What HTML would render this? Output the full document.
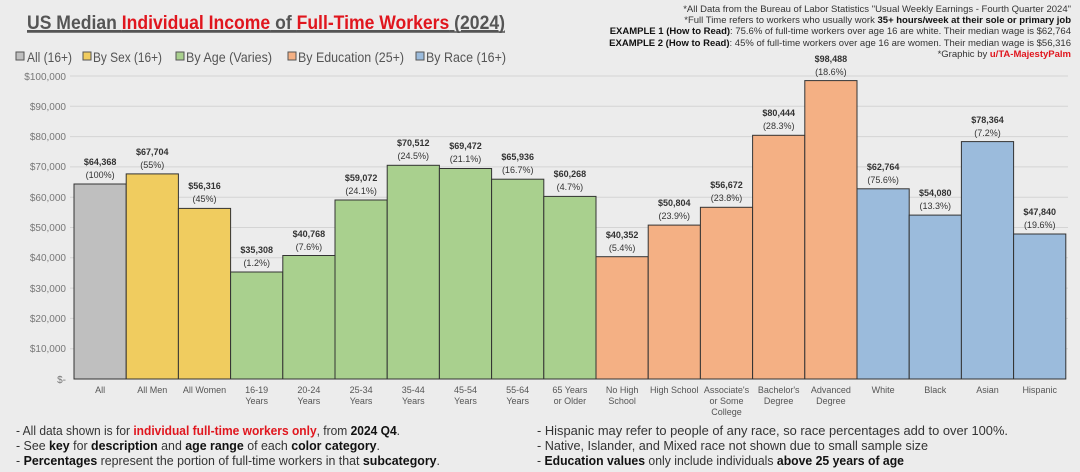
<!DOCTYPE html>
<html><head><meta charset="utf-8"><style>
html,body{margin:0;padding:0;background:#ececec;}
svg{display:block;font-family:"Liberation Sans",sans-serif;}
</style></head><body>
<svg width="1080" height="472" viewBox="0 0 1080 472" xmlns="http://www.w3.org/2000/svg">
<rect x="0" y="0" width="1080" height="472" fill="#ececec"/>
<text x="27" y="29" font-size="19" font-weight="bold" fill="#555" textLength="478" lengthAdjust="spacingAndGlyphs" text-decoration="underline">US Median <tspan fill="#e0161e">Individual Income</tspan> of <tspan fill="#e0161e">Full-Time Workers</tspan> (2024)</text>
<line x1="27" y1="32" x2="505" y2="32" stroke="#555" stroke-width="1.5"/>
<g font-size="9.5" fill="#333" text-anchor="end">
<text x="1071" y="12">*All Data from the Bureau of Labor Statistics "Usual Weekly Earnings - Fourth Quarter 2024"</text>
<text x="1071" y="23">*Full Time refers to workers who usually work <tspan font-weight="bold" fill="#111">35+ hours/week at their sole or primary job</tspan></text>
<text x="1071" y="34"><tspan font-weight="bold" fill="#111">EXAMPLE 1 (How to Read)</tspan>: 75.6% of full-time workers over age 16 are white. Their median wage is $62,764</text>
<text x="1071" y="46"><tspan font-weight="bold" fill="#111">EXAMPLE 2 (How to Read)</tspan>: 45% of full-time workers over age 16 are women. Their median wage is $56,316</text>
<text x="1071" y="57">*Graphic by <tspan font-weight="bold" fill="#e0161e">u/TA-MajestyPalm</tspan></text>
</g>
<g font-size="14" fill="#555">
<rect x="16" y="52" width="8" height="8" fill="#bfbfbf" stroke="#555"/><text x="27" y="62" textLength="45" lengthAdjust="spacingAndGlyphs">All (16+)</text>
<rect x="83" y="52" width="8" height="8" fill="#f0cc5f" stroke="#555"/><text x="93" y="62" textLength="69" lengthAdjust="spacingAndGlyphs">By Sex (16+)</text>
<rect x="176" y="52" width="8" height="8" fill="#a9d08e" stroke="#555"/><text x="186" y="62" textLength="86" lengthAdjust="spacingAndGlyphs">By Age (Varies)</text>
<rect x="288" y="52" width="8" height="8" fill="#f4b084" stroke="#555"/><text x="298" y="62" textLength="106" lengthAdjust="spacingAndGlyphs">By Education (25+)</text>
<rect x="416" y="52" width="8" height="8" fill="#9bbbdc" stroke="#555"/><text x="426" y="62" textLength="80" lengthAdjust="spacingAndGlyphs">By Race (16+)</text>
</g>
<g stroke="#d4d4d4" stroke-width="1">
<line x1="70" y1="76" x2="1068" y2="76"/><line x1="70" y1="106.3" x2="1068" y2="106.3"/><line x1="70" y1="136.6" x2="1068" y2="136.6"/><line x1="70" y1="166.9" x2="1068" y2="166.9"/><line x1="70" y1="197.2" x2="1068" y2="197.2"/><line x1="70" y1="227.5" x2="1068" y2="227.5"/><line x1="70" y1="257.8" x2="1068" y2="257.8"/><line x1="70" y1="288.1" x2="1068" y2="288.1"/><line x1="70" y1="318.4" x2="1068" y2="318.4"/><line x1="70" y1="348.7" x2="1068" y2="348.7"/>
</g>
<g font-size="10" fill="#777" text-anchor="end">
<text x="66" y="80">$100,000</text><text x="66" y="110">$90,000</text><text x="66" y="140">$80,000</text><text x="66" y="170">$70,000</text><text x="66" y="201">$60,000</text><text x="66" y="231">$50,000</text><text x="66" y="261">$40,000</text><text x="66" y="292">$30,000</text><text x="66" y="322">$20,000</text><text x="66" y="352">$10,000</text><text x="66" y="383">$-</text>
</g>
<g stroke="#333" stroke-width="1">
<rect x="74" y="184.0" width="52.2" height="195.0" fill="#bfbfbf"/>
<rect x="126.2" y="173.9" width="52.2" height="205.1" fill="#f0cc5f"/>
<rect x="178.4" y="208.4" width="52.2" height="170.6" fill="#f0cc5f"/>
<rect x="230.6" y="272.0" width="52.2" height="107.0" fill="#a9d08e"/>
<rect x="282.8" y="255.5" width="52.2" height="123.5" fill="#a9d08e"/>
<rect x="335" y="200.0" width="52.2" height="179.0" fill="#a9d08e"/>
<rect x="387.2" y="165.3" width="52.2" height="213.7" fill="#a9d08e"/>
<rect x="439.4" y="168.5" width="52.2" height="210.5" fill="#a9d08e"/>
<rect x="491.6" y="179.2" width="52.2" height="199.8" fill="#a9d08e"/>
<rect x="543.8" y="196.4" width="52.2" height="182.6" fill="#a9d08e"/>
<rect x="596" y="256.7" width="52.2" height="122.3" fill="#f4b084"/>
<rect x="648.2" y="225.1" width="52.2" height="153.9" fill="#f4b084"/>
<rect x="700.4" y="207.3" width="52.2" height="171.7" fill="#f4b084"/>
<rect x="752.6" y="135.3" width="52.2" height="243.7" fill="#f4b084"/>
<rect x="804.8" y="80.6" width="52.2" height="298.4" fill="#f4b084"/>
<rect x="857" y="188.8" width="52.2" height="190.2" fill="#9bbbdc"/>
<rect x="909.2" y="215.1" width="52.2" height="163.9" fill="#9bbbdc"/>
<rect x="961.4" y="141.6" width="52.2" height="237.4" fill="#9bbbdc"/>
<rect x="1013.6" y="234.0" width="52.2" height="145.0" fill="#9bbbdc"/>
</g>
<g font-size="9" text-anchor="middle" fill="#333">
<g font-weight="bold">
<text x="100.1" y="165">$64,368</text><text x="152.3" y="155">$67,704</text><text x="204.5" y="189">$56,316</text><text x="256.7" y="253">$35,308</text><text x="308.9" y="237">$40,768</text><text x="361.1" y="181">$59,072</text><text x="413.3" y="146">$70,512</text><text x="465.5" y="149">$69,472</text><text x="517.7" y="160">$65,936</text><text x="569.9" y="177">$60,268</text><text x="622.1" y="238">$40,352</text><text x="674.3" y="206">$50,804</text><text x="726.5" y="188">$56,672</text><text x="778.7" y="116">$80,444</text><text x="830.9" y="62">$98,488</text><text x="883.1" y="170">$62,764</text><text x="935.3" y="196">$54,080</text><text x="987.5" y="123">$78,364</text><text x="1039.7" y="215">$47,840</text>
</g>
<text x="100.1" y="178">(100%)</text><text x="152.3" y="168">(55%)</text><text x="204.5" y="202">(45%)</text><text x="256.7" y="266">(1.2%)</text><text x="308.9" y="250">(7.6%)</text><text x="361.1" y="194">(24.1%)</text><text x="413.3" y="159">(24.5%)</text><text x="465.5" y="162">(21.1%)</text><text x="517.7" y="173">(16.7%)</text><text x="569.9" y="190">(4.7%)</text><text x="622.1" y="251">(5.4%)</text><text x="674.3" y="219">(23.9%)</text><text x="726.5" y="201">(23.8%)</text><text x="778.7" y="129">(28.3%)</text><text x="830.9" y="75">(18.6%)</text><text x="883.1" y="183">(75.6%)</text><text x="935.3" y="209">(13.3%)</text><text x="987.5" y="136">(7.2%)</text><text x="1039.7" y="228">(19.6%)</text>
</g>
<g font-size="9" text-anchor="middle" fill="#555">
<text x="100.1" y="393">All</text><text x="152.3" y="393">All Men</text><text x="204.5" y="393">All Women</text>
<text x="256.7" y="393">16-19</text><text x="256.7" y="404">Years</text>
<text x="308.9" y="393">20-24</text><text x="308.9" y="404">Years</text>
<text x="361.1" y="393">25-34</text><text x="361.1" y="404">Years</text>
<text x="413.3" y="393">35-44</text><text x="413.3" y="404">Years</text>
<text x="465.5" y="393">45-54</text><text x="465.5" y="404">Years</text>
<text x="517.7" y="393">55-64</text><text x="517.7" y="404">Years</text>
<text x="569.9" y="393">65 Years</text><text x="569.9" y="404">or Older</text>
<text x="622.1" y="393">No High</text><text x="622.1" y="404">School</text>
<text x="674.3" y="393">High School</text>
<text x="726.5" y="393">Associate's</text><text x="726.5" y="404">or Some</text><text x="726.5" y="415">College</text>
<text x="778.7" y="393">Bachelor's</text><text x="778.7" y="404">Degree</text>
<text x="830.9" y="393">Advanced</text><text x="830.9" y="404">Degree</text>
<text x="883.1" y="393">White</text><text x="935.3" y="393">Black</text><text x="987.5" y="393">Asian</text><text x="1039.7" y="393">Hispanic</text>
</g>
<g font-size="13" fill="#333">
<text x="16" y="435" textLength="384" lengthAdjust="spacingAndGlyphs">- All data shown is for <tspan font-weight="bold" fill="#e0161e">individual full-time workers only</tspan>, from <tspan font-weight="bold" fill="#111">2024 Q4</tspan>.</text>
<text x="16" y="450" textLength="364" lengthAdjust="spacingAndGlyphs">- See <tspan font-weight="bold" fill="#111">key</tspan> for <tspan font-weight="bold" fill="#111">description</tspan> and <tspan font-weight="bold" fill="#111">age range</tspan> of each <tspan font-weight="bold" fill="#111">color category</tspan>.</text>
<text x="16" y="465" textLength="424" lengthAdjust="spacingAndGlyphs">- <tspan font-weight="bold" fill="#111">Percentages</tspan> represent the portion of full-time workers in that <tspan font-weight="bold" fill="#111">subcategory</tspan>.</text>
<text x="537" y="435" textLength="471" lengthAdjust="spacingAndGlyphs">- Hispanic may refer to people of any race, so race percentages add to over 100%.</text>
<text x="537" y="450" textLength="391" lengthAdjust="spacingAndGlyphs">- Native, Islander, and Mixed race not shown due to small sample size</text>
<text x="537" y="465" textLength="367" lengthAdjust="spacingAndGlyphs">- <tspan font-weight="bold" fill="#111">Education values</tspan> only include individuals <tspan font-weight="bold" fill="#111">above 25 years of age</tspan></text>
</g>
</svg>
</body></html>
